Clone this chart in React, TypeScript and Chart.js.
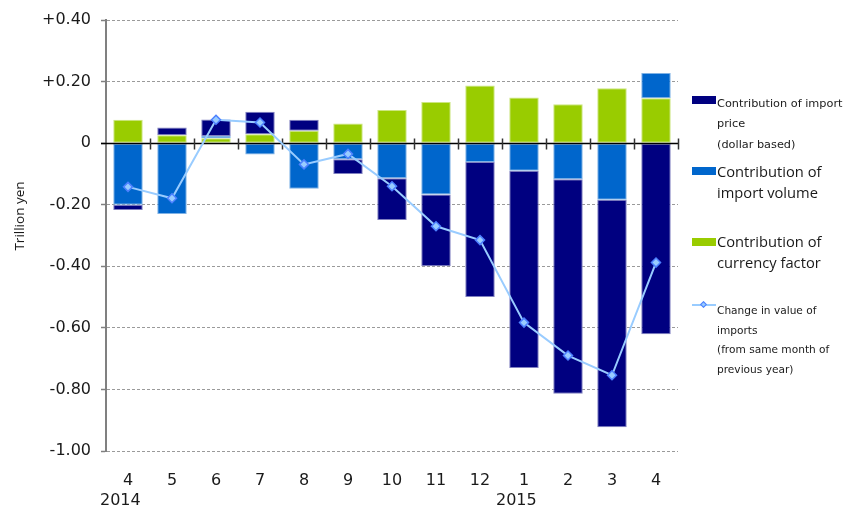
import React, { useEffect, useRef } from "react";
import { Chart, registerables } from "chart.js";

Chart.register(...registerables);

// Month labels and the year shown under the first month of each year
const MONTHS = ["4", "5", "6", "7", "8", "9", "10", "11", "12", "1", "2", "3", "4"];
const YEARS = ["2014", "", "", "", "", "", "", "", "", "2015", "", "", ""];

// Contributions to the change in import value (trillion yen)
const PRICE = [-0.017, 0.025, 0.054, 0.073, 0.036, -0.048, -0.136, -0.233, -0.439, -0.64, -0.697, -0.739, -0.621];
const VOLUME = [-0.2, -0.23, 0.007, -0.037, -0.148, -0.052, -0.114, -0.167, -0.061, -0.09, -0.117, -0.184, 0.082];
const CURRENCY = [0.076, 0.026, 0.016, 0.029, 0.04, 0.064, 0.108, 0.134, 0.187, 0.148, 0.126, 0.178, 0.146];
const IMPORT_CHANGE = [-0.142, -0.179, 0.076, 0.067, -0.069, -0.035, -0.14, -0.27, -0.315, -0.583, -0.69, -0.754, -0.388];

const Y_TICKS = [0.4, 0.2, 0, -0.2, -0.4, -0.6, -0.8, -1.0];

const NAVY = "#000080";
const BLUE = "#0066CC";
const GREEN = "#99CC00";
const LINE = "#99CCFF";

const TEXT = "#1a1a1a";

function fmtTick(v: number): string {
  if (Math.abs(v) < 1e-9) return "0";
  return (v > 0 ? "+" : "") + v.toFixed(2);
}

// Draws the zero baseline with category separator ticks, beneath the line series
const zeroAxisPlugin = {
  id: "zeroAxis",
  beforeDatasetDraw(chart: any, args: any) {
    if (args.meta.type !== "line") return;
    const { ctx, chartArea, scales } = chart;
    const y = Math.round(scales.y.getPixelForValue(0)) + 0.5;
    const n = scales.x.ticks.length;
    const step = (chartArea.right - chartArea.left) / n;
    ctx.save();
    ctx.strokeStyle = "#000";
    ctx.lineWidth = 1.5;
    ctx.beginPath();
    ctx.moveTo(chartArea.left - 5, y);
    ctx.lineTo(chartArea.right, y);
    ctx.stroke();
    ctx.lineWidth = 1.5;
    ctx.strokeStyle = "#333";
    for (let i = 1; i <= n; i++) {
      const x = Math.round(chartArea.left + i * step) + 0.5;
      ctx.beginPath();
      ctx.moveTo(x, y - 5);
      ctx.lineTo(x, y + 6);
      ctx.stroke();
    }
    ctx.restore();
  },
};

function ImportChart() {
  const ref = useRef<HTMLCanvasElement | null>(null);

  useEffect(() => {
    if (!ref.current) return;
    const labels = MONTHS.map((m, i) => (YEARS[i] ? [m, YEARS[i] + "   "] : m));
    const chart = new Chart(ref.current, {
      type: "bar",
      data: {
        labels,
        datasets: [
          {
            type: "line",
            label: "Change in value of imports (from same month of previous year)",
            data: IMPORT_CHANGE,
            borderColor: LINE,
            borderWidth: 2,
            pointStyle: "rectRot",
            pointRadius: 4.5,
            pointBackgroundColor: "#99CCFF",
            pointBorderColor: "#4D80FF",
            pointBorderWidth: 1.5,
            tension: 0,
            order: 0,
            stack: "change",
          } as any,
          {
            label: "Contribution of currency factor",
            data: CURRENCY,
            backgroundColor: GREEN,
            borderColor: "#CCE680",
            borderWidth: 1,
            borderSkipped: false,
            order: 1,
            stack: "contrib",
          },
          {
            label: "Contribution of import volume",
            data: VOLUME,
            backgroundColor: BLUE,
            borderColor: "#7FB2E5",
            borderWidth: 1,
            borderSkipped: false,
            order: 1,
            stack: "contrib",
          },
          {
            label: "Contribution of import price (dollar based)",
            data: PRICE,
            backgroundColor: NAVY,
            borderColor: "#8080C0",
            borderWidth: 1,
            borderSkipped: false,
            order: 1,
            stack: "contrib",
          },
        ],
      },
      options: {
        responsive: false,
        animation: false,
        devicePixelRatio: 1,
        layout: { padding: { top: 20, right: 170, left: 0, bottom: 0 } },
        plugins: {
          legend: { display: false },
          tooltip: { enabled: false },
        },
        datasets: {
          bar: { categoryPercentage: 1, barPercentage: 0.67 },
        },
        scales: {
          x: {
            stacked: true,
            grid: { display: false, drawTicks: false },
            border: { display: false },
            afterFit: (scale: any) => {
              scale.height = 61;
            },
            ticks: {
              color: TEXT,
              padding: 19,
              maxRotation: 0,
              autoSkip: false,
              font: { family: "DejaVu Sans", size: 16, lineHeight: 1.3 },
            },
          },
          y: {
            stacked: true,
            min: -1,
            max: 0.4,
            afterBuildTicks: (scale: any) => {
              scale.ticks = Y_TICKS.map((v) => ({ value: v }));
            },
            afterFit: (scale: any) => {
              scale.width = 106;
            },
            grid: {
              color: (c: any) => (c.tick && Math.abs(c.tick.value) < 1e-9 ? "rgba(0,0,0,0)" : "#9a9a9a"),
              lineWidth: 1,
              drawTicks: true,
              tickLength: 5,
              tickColor: "#808080",
              tickWidth: 1.5,
              tickBorderDash: [],
            },
            border: { display: true, color: "#808080", width: 2, dash: [3, 2] },
            ticks: {
              color: TEXT,
              padding: 10,
              font: { family: "DejaVu Sans", size: 16 },
              callback: (v: any) => fmtTick(Number(v)),
            },
          },
        },
      },
      plugins: [zeroAxisPlugin],
    } as any);
    return () => chart.destroy();
  }, []);

  return <canvas ref={ref} width={848} height={512} style={{ display: "block" }} />;
}

const swatch = (color: string, top: number): React.CSSProperties => ({
  position: "absolute",
  left: 692,
  top,
  width: 24,
  height: 8,
  background: color,
});

const smallText = (top: number, size: number, lh: number): React.CSSProperties => ({
  position: "absolute",
  left: 717,
  top,
  fontFamily: "DejaVu Sans",
  fontSize: size,
  lineHeight: lh + "px",
  color: TEXT,
  whiteSpace: "nowrap",
});

const bigText = (top: number): React.CSSProperties => ({
  position: "absolute",
  left: 717,
  top,
  fontFamily: "Open Sans",
  fontSize: 14.7,
  lineHeight: "21px",
  color: TEXT,
  whiteSpace: "nowrap",
});

export default function App() {
  return (
    <div style={{ position: "absolute", left: 0, top: 0, width: 848, height: 512, background: "#fff" }}>
      <ImportChart />
      <div
        style={{
          position: "absolute",
          left: 19 - 60,
          top: 216 - 10,
          width: 120,
          height: 20,
          lineHeight: "20px",
          textAlign: "center",
          fontFamily: "Open Sans",
          fontSize: 13.5,
          color: TEXT,
          transform: "rotate(-90deg)",
        }}
      >
        Trillion yen
      </div>

      <div style={swatch(NAVY, 96)} />
      <div style={smallText(93.7, 11.3, 20.5)}>
        <div>Contribution of import</div>
        <div>price</div>
        <div>(dollar based)</div>
      </div>

      <div style={swatch(BLUE, 167)} />
      <div style={bigText(160.5)}>
        <div>Contribution of</div>
        <div>import volume</div>
      </div>

      <div style={swatch(GREEN, 237.5)} />
      <div style={bigText(230.5)}>
        <div>Contribution of</div>
        <div>currency factor</div>
      </div>

      <div style={{ position: "absolute", left: 692, top: 304, width: 24, height: 2, background: LINE }} />
      <div
        style={{
          position: "absolute",
          left: 701,
          top: 302,
          width: 5,
          height: 5,
          background: "#99CCFF",
          border: "1px solid #4D80FF",
          transform: "rotate(45deg)",
          boxSizing: "border-box",
        }}
      />
      <div style={smallText(301.4, 10.6, 19.5)}>
        <div>Change in value of</div>
        <div>imports</div>
        <div>(from same month of</div>
        <div>previous year)</div>
      </div>
    </div>
  );
}
